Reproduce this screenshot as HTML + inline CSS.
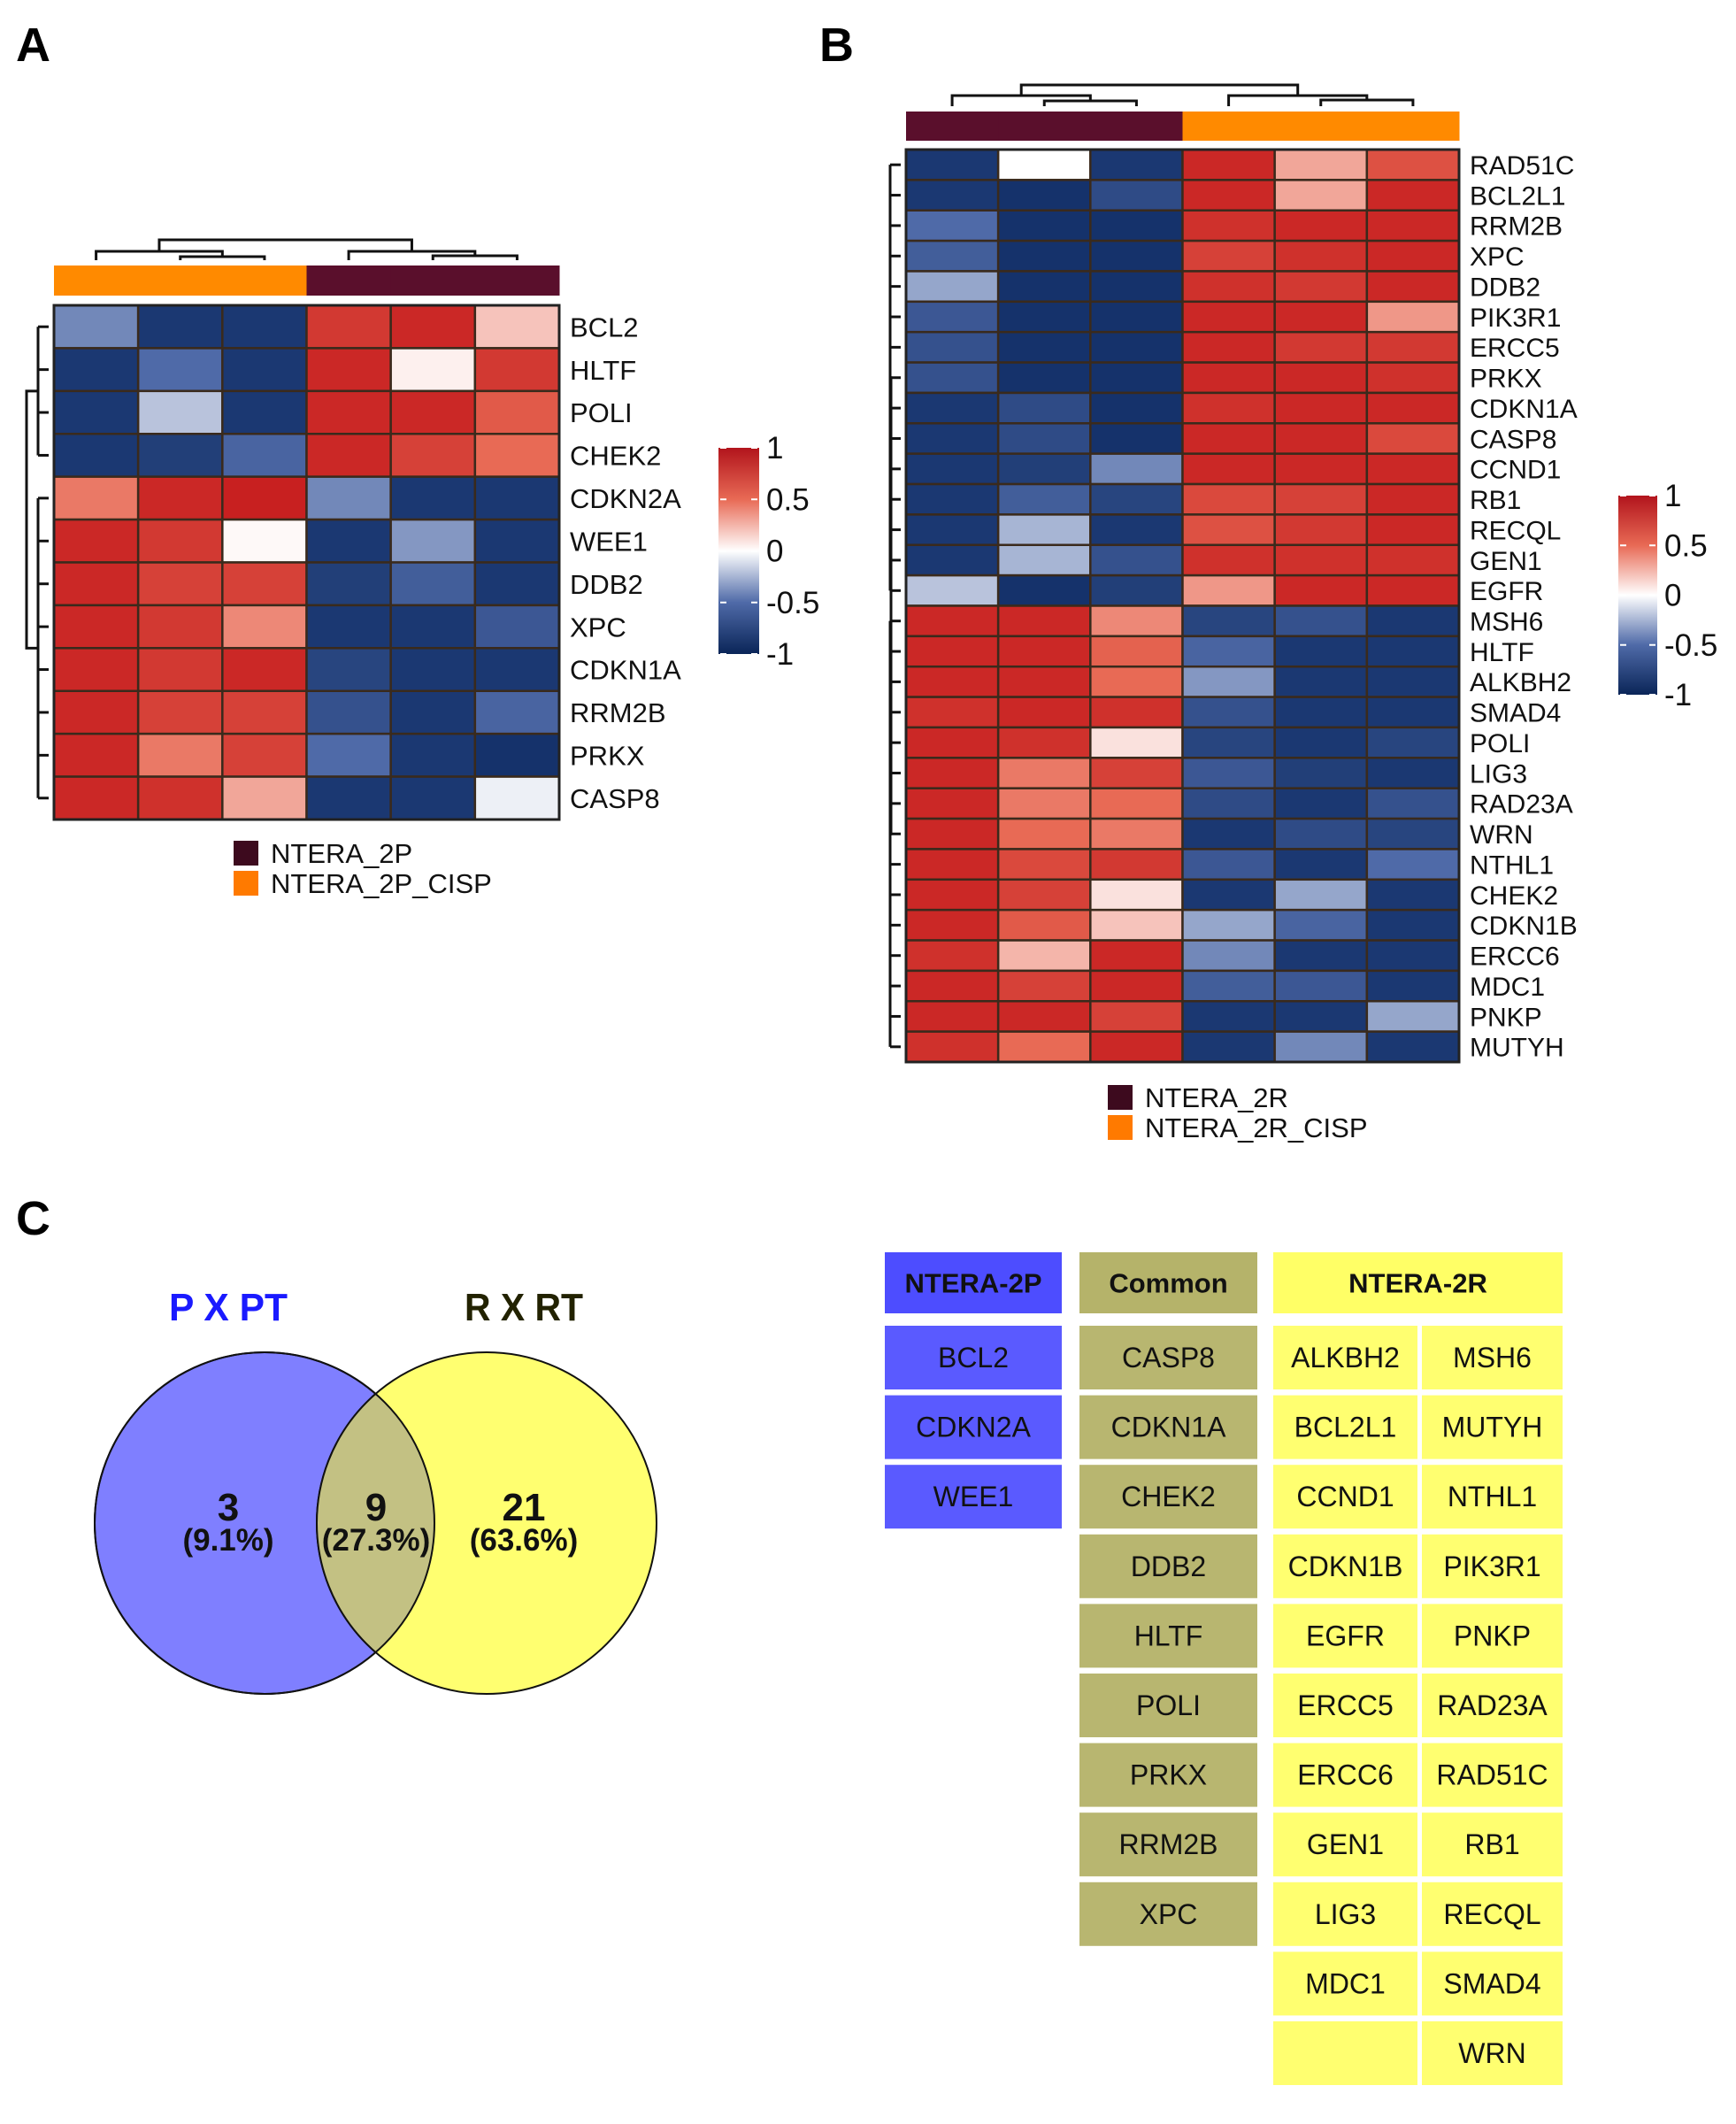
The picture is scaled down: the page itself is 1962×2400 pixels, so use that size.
<!DOCTYPE html>
<html><head><meta charset="utf-8"><style>
html,body{margin:0;padding:0;background:#fff}
svg{display:block}
text{font-family:"Liberation Sans",sans-serif}
</style></head><body>
<svg id="fig" width="1962" height="2400" viewBox="0 0 1962 2400" xmlns="http://www.w3.org/2000/svg">
<defs>
<linearGradient id="scaleGrad" x1="0" y1="0" x2="0" y2="1">
<stop offset="0" stop-color="#b2141c"/><stop offset="0.25" stop-color="#e86a55"/><stop offset="0.5" stop-color="#ffffff"/><stop offset="0.75" stop-color="#4f6aa8"/><stop offset="1" stop-color="#0a2558"/>
</linearGradient>
</defs>
<text x="18" y="69" font-size="54" font-weight="bold">A</text>
<text x="926" y="69" font-size="54" font-weight="bold">B</text>
<text x="18" y="1395" font-size="54" font-weight="bold">C</text>
<g id="hmA"></g>
<g id="hmB"></g>
<g id="venn"></g>
<g id="tables"></g>
</svg>
<script>
const genesA = ["BCL2","HLTF","POLI","CHEK2","CDKN2A","WEE1","DDB2","XPC","CDKN1A","RRM2B","PRKX","CASP8"];
const valuesA = [
[-0.4,-0.9,-0.9,0.8,0.9,0.2],
[-0.9,-0.5,-0.9,0.9,0.05,0.8],
[-0.9,-0.2,-0.9,0.9,0.9,0.6],
[-0.9,-0.85,-0.55,0.9,0.75,0.5],
[0.45,0.9,0.95,-0.4,-0.9,-0.9],
[0.9,0.8,0.02,-0.9,-0.35,-0.9],
[0.9,0.75,0.75,-0.85,-0.6,-0.9],
[0.9,0.8,0.4,-0.9,-0.9,-0.65],
[0.9,0.8,0.9,-0.8,-0.9,-0.9],
[0.9,0.75,0.75,-0.7,-0.9,-0.55],
[0.9,0.45,0.75,-0.5,-0.9,-0.95],
[0.9,0.85,0.3,-0.9,-0.9,-0.05]];
const groupsA = ["NTERA_2P_CISP","NTERA_2P_CISP","NTERA_2P_CISP","NTERA_2P","NTERA_2P","NTERA_2P"];
const genesB = ["RAD51C","BCL2L1","RRM2B","XPC","DDB2","PIK3R1","ERCC5","PRKX","CDKN1A","CASP8","CCND1","RB1","RECQL","GEN1","EGFR","MSH6","HLTF","ALKBH2","SMAD4","POLI","LIG3","RAD23A","WRN","NTHL1","CHEK2","CDKN1B","ERCC6","MDC1","PNKP","MUTYH"];
const valuesB = [
[-0.9,0.0,-0.9,0.9,0.3,0.65],
[-0.9,-0.95,-0.75,0.9,0.3,0.9],
[-0.5,-0.95,-0.95,0.85,0.9,0.9],
[-0.6,-0.95,-0.95,0.75,0.85,0.9],
[-0.3,-0.95,-0.95,0.85,0.8,0.9],
[-0.65,-0.95,-0.95,0.9,0.9,0.35],
[-0.7,-0.95,-0.95,0.9,0.8,0.8],
[-0.7,-0.95,-0.95,0.9,0.9,0.85],
[-0.9,-0.75,-0.95,0.85,0.9,0.9],
[-0.9,-0.75,-0.95,0.9,0.9,0.7],
[-0.9,-0.85,-0.4,0.9,0.9,0.9],
[-0.9,-0.6,-0.8,0.7,0.75,0.9],
[-0.9,-0.25,-0.9,0.65,0.8,0.9],
[-0.9,-0.25,-0.7,0.85,0.85,0.85],
[-0.2,-0.95,-0.85,0.35,0.9,0.9],
[0.9,0.9,0.4,-0.8,-0.7,-0.9],
[0.9,0.9,0.55,-0.55,-0.9,-0.9],
[0.9,0.9,0.5,-0.35,-0.9,-0.9],
[0.85,0.9,0.85,-0.7,-0.9,-0.9],
[0.9,0.85,0.1,-0.8,-0.9,-0.8],
[0.9,0.45,0.75,-0.65,-0.85,-0.9],
[0.9,0.45,0.5,-0.75,-0.9,-0.7],
[0.9,0.5,0.45,-0.9,-0.75,-0.8],
[0.9,0.7,0.8,-0.65,-0.9,-0.5],
[0.9,0.75,0.1,-0.9,-0.3,-0.9],
[0.9,0.6,0.2,-0.3,-0.55,-0.9],
[0.85,0.25,0.9,-0.4,-0.9,-0.9],
[0.9,0.75,0.9,-0.6,-0.65,-0.9],
[0.9,0.9,0.75,-0.9,-0.9,-0.3],
[0.85,0.5,0.9,-0.9,-0.4,-0.9]];
const groupsB = ["NTERA_2R","NTERA_2R","NTERA_2R","NTERA_2R_CISP","NTERA_2R_CISP","NTERA_2R_CISP"];
const scaleTicks = [1,0.5,0,-0.5,-1];
const scaleTickLabels = ["1","0.5","0","-0.5","-1"];
const vennSets = ["P X PT","R X RT"];
const vennCounts = [3,9,21];
const vennPercents = ["(9.1%)","(27.3%)","(63.6%)"];
const listP = ["BCL2","CDKN2A","WEE1"];
const listCommon = ["CASP8","CDKN1A","CHEK2","DDB2","HLTF","POLI","PRKX","RRM2B","XPC"];
const listRleft = ["ALKBH2","BCL2L1","CCND1","CDKN1B","EGFR","ERCC5","ERCC6","GEN1","LIG3","MDC1",""];
const listRright = ["MSH6","MUTYH","NTHL1","PIK3R1","PNKP","RAD23A","RAD51C","RB1","RECQL","SMAD4","WRN"];

const NS="http://www.w3.org/2000/svg";
function mk(tag,attrs,parent){const e=document.createElementNS(NS,tag);for(const k in attrs)e.setAttribute(k,attrs[k]);parent.appendChild(e);return e;}
const stops=[[-1,[14,44,100]],[-0.5,[79,106,168]],[0,[255,255,255]],[0.5,[232,106,85]],[1,[196,24,26]]];
function color(v){v=Math.max(-1,Math.min(1,v));for(let i=0;i<stops.length-1;i++){const a=stops[i],b=stops[i+1];if(v<=b[0]){const t=(v-a[0])/(b[0]-a[0]);const c=a[1].map((x,j)=>Math.round(x+(b[1][j]-x)*t));return `rgb(${c[0]},${c[1]},${c[2]})`;}}return "rgb(196,24,26)";}
const groupColor={"NTERA_2P":"#5a0f2c","NTERA_2P_CISP":"#ff8a00","NTERA_2R":"#5a0f2c","NTERA_2R_CISP":"#ff8a00"};

function heatmap(g,cfg){
  const cols=cfg.values[0].length, rows=cfg.genes.length;
  const cw=(cfg.x1-cfg.x0)/cols, rh=(cfg.y1-cfg.y0)/rows;
  const xs=c=>cfg.x0+c*cw, ys=r=>cfg.y0+r*rh;
  cfg.values.forEach((row,r)=>row.forEach((v,c)=>{
    const rc=mk('rect',{x:xs(c),y:ys(r),width:cw,height:rh,fill:color(v),stroke:'#3a2a1c','stroke-width':2.5},g);
    
    
  }));
  mk('rect',{x:cfg.x0,y:cfg.y0,width:cfg.x1-cfg.x0,height:cfg.y1-cfg.y0,fill:'none',stroke:'#222','stroke-width':3},g);
  cfg.genes.forEach((n,r)=>{const t=mk('text',{x:cfg.x1+12,y:ys(r)+rh/2+cfg.fs*0.36,'font-size':cfg.fs,fill:'#111'},g);t.textContent=n;
    
    });
  cfg.groups.forEach((gr,c)=>{const a=mk('rect',{x:xs(c),y:cfg.ay0,width:cw+0.5,height:cfg.ay1-cfg.ay0,fill:groupColor[gr]},g);
    
    });
  const cx=c=>xs(c)+cw/2, dt=cfg.dTop, dm=cfg.dMid, db=cfg.ay0-6;
  const L=(pts)=>mk('polyline',{points:pts.map(p=>p.join(',')).join(' '),fill:'none',stroke:'#111','stroke-width':3},g);
  L([[cx(1),db],[cx(1),dm+6],[cx(2),dm+6],[cx(2),db]]);
  L([[cx(0),db],[cx(0),dm],[(cx(1)+cx(2))/2,dm],[(cx(1)+cx(2))/2,dm+6]]);
  L([[cx(4),db],[cx(4),dm+5],[cx(5),dm+5],[cx(5),db]]);
  L([[cx(3),db],[cx(3),dm],[(cx(4)+cx(5))/2,dm],[(cx(4)+cx(5))/2,dm+5]]);
  L([[(cx(0)+cx(1.5))/2,dm],[(cx(0)+cx(1.5))/2,dt],[(cx(3)+cx(4.5))/2,dt],[(cx(3)+cx(4.5))/2,dm]]);
  const ry=r=>ys(r)+rh/2, xr=cfg.x0-6;
  const split=cfg.split;
  for(let r=0;r<rows;r++){L([[xr,ry(r)],[cfg.x0-18,ry(r)]]);}
  const topM=(ry(0)+ry(split-1))/2, botM=(ry(split)+ry(rows-1))/2;
  L([[cfg.x0-18,ry(0)],[cfg.x0-18,ry(split-1)]]);
  L([[cfg.x0-18,ry(split)],[cfg.x0-18,ry(rows-1)]]);
  L([[cfg.x0-18,topM],[cfg.rdx,topM],[cfg.rdx,botM],[cfg.x0-18,botM]]);
  const k=cfg.key;
  mk('rect',{x:k.x,y:k.y0,width:k.w,height:k.y1-k.y0,fill:'url(#scaleGrad)'},g);
  scaleTicks.forEach((v,i)=>{const y=k.y0+(1-v)/2*(k.y1-k.y0);
    mk('line',{x1:k.x+2,x2:k.x+9,y1:y,y2:y,stroke:'#fff','stroke-width':2},g);
    mk('line',{x1:k.x+k.w-9,x2:k.x+k.w-2,y1:y,y2:y,stroke:'#fff','stroke-width':2},g);
    const t=mk('text',{x:k.x+k.w+8,y:y+12,'font-size':35,fill:'#111'},g);t.textContent=scaleTickLabels[i];
    
    });
  cfg.legend.forEach((it,i)=>{
    mk('rect',{x:cfg.lx,y:cfg.ly+i*34,width:28,height:28,fill:it[1]},g);
    const t=mk('text',{x:cfg.lx+42,y:cfg.ly+i*34+25,'font-size':31,fill:'#111'},g);t.textContent=it[0];
    
    });
}
heatmap(document.getElementById('hmA'),{genes:genesA,values:valuesA,groups:groupsA,x0:61,x1:632,y0:345,y1:926,ay0:300,ay1:334,dTop:271,dMid:284,fs:31,split:4,rdx:30,
  key:{x:812,w:46,y0:506,y1:739},lx:264,ly:950,legend:[["NTERA_2P","#3d0a1e"],["NTERA_2P_CISP","#ff7a00"]]});
heatmap(document.getElementById('hmB'),{genes:genesB,values:valuesB,groups:groupsB,x0:1024,x1:1649,y0:169,y1:1200,ay0:126,ay1:159,dTop:96,dMid:108,fs:30,split:15,rdx:1007,
  key:{x:1829,w:44,y0:560,y1:785},lx:1252,ly:1226,legend:[["NTERA_2R","#3d0a1e"],["NTERA_2R_CISP","#ff7a00"]]});

const vg=document.getElementById('venn');
const c1=mk('ellipse',{cx:299,cy:1721,rx:192,ry:193,fill:'#7f7fff',stroke:'#111','stroke-width':2},vg);


const c2=mk('ellipse',{cx:550,cy:1721,rx:192,ry:193,fill:'#ffff70',stroke:'#111','stroke-width':2},vg);


mk('clipPath',{id:'clipL'},vg);
mk('ellipse',{cx:299,cy:1721,rx:192,ry:193},document.getElementById('clipL'));
const ov=mk('ellipse',{cx:550,cy:1721,rx:192,ry:193,fill:'#c3c183',stroke:'#111','stroke-width':2,'clip-path':'url(#clipL)'},vg);


mk('ellipse',{cx:299,cy:1721,rx:192,ry:193,fill:'none',stroke:'#111','stroke-width':2},vg);
const setX=[258,592], setCol=['#1a1aff','#222200'];
vennSets.forEach((s,i)=>{const t=mk('text',{x:setX[i]-67,y:1492,'font-size':44,'font-weight':'bold',fill:setCol[i],textLength:134,lengthAdjust:'spacingAndGlyphs'},vg);t.textContent=s;
  
  });
const numX=[258,425,592];
vennCounts.forEach((n,i)=>{const t=mk('text',{x:numX[i],y:1718,'font-size':44,'font-weight':'bold','text-anchor':'middle',fill:'#111'},vg);t.textContent=n;
  
  
  const p=mk('text',{x:numX[i],y:1752,'font-size':35,'font-weight':'bold','text-anchor':'middle',fill:'#111'},vg);p.textContent=vennPercents[i];
  
  });

const tg=document.getElementById('tables');
function cell(x,w,y,h,fill,txt,bold,name){
  const r=mk('rect',{x:x,y:y,width:w,height:h,fill:fill},tg);
  
  
  const t=mk('text',{x:x+w/2,y:y+h/2+11,'font-size':bold?31:32,'font-weight':bold?'bold':'normal','text-anchor':'middle',fill:'#111','font-family':'"DejaVu Sans","Liberation Sans",sans-serif'},tg);t.textContent=txt;
  
  
}
const hy=1415,hh=69,r0=1498,rs=78.6,rh2=72;
cell(1000,200,hy,hh,'#4d4dff','NTERA-2P',true,'header-ntera-2p');
cell(1220,201,hy,hh,'#b5b36a','Common',true,'header-common');
cell(1439,327,hy,hh,'#ffff66','NTERA-2R',true,'header-ntera-2r');
listP.forEach((g,i)=>cell(1000,200,r0+i*rs,rh2,'#5a5aff',g,false,'gene-cell-p'));
listCommon.forEach((g,i)=>cell(1220,201,r0+i*rs,rh2,'#b8b670',g,false,'gene-cell-common'));
listRleft.forEach((g,i)=>cell(1439,163,r0+i*rs,rh2,'#ffff70',g,false,'gene-cell-r'));
listRright.forEach((g,i)=>cell(1607,159,r0+i*rs,rh2,'#ffff70',g,false,'gene-cell-r'));
</script>
</body></html>
